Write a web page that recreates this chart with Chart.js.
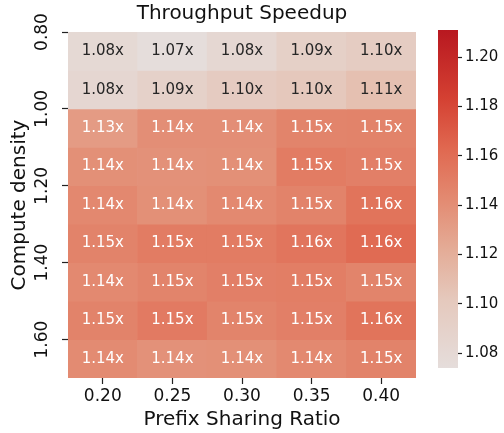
<!DOCTYPE html>
<html>
<head>
<meta charset="utf-8">
<script src="https://cdn.jsdelivr.net/npm/chart.js@4"></script>
<style>
  html, body { margin: 0; padding: 0; background: #fff; }
  #wrap { position: relative; width: 504px; height: 433px; }
  #heat { position: absolute; left: 0; top: 0; }
  #cbar { position: absolute; left: 438px; top: 0; }
</style>
</head>
<body>
<div id="wrap">
  <canvas id="heat" width="504" height="433"></canvas>
  <canvas id="cbar" width="66" height="433"></canvas>
</div>
<script>
// x categories and y rows
const ratios = ['0.20', '0.25', '0.30', '0.35', '0.40'];
const densities = [0.80, 0.90, 1.00, 1.10, 1.20, 1.30, 1.40, 1.50, 1.60];
const densityTicks = [0.80, 1.00, 1.20, 1.40, 1.60];
const rowStep = 0.1;

// speedup per row (compute density), columns = prefix sharing ratio
const speedup080 = [1.080, 1.074, 1.082, 1.092, 1.097];
const speedup090 = [1.083, 1.090, 1.098, 1.102, 1.108];
const speedup100 = [1.132, 1.140, 1.140, 1.146, 1.147];
const speedup110 = [1.139, 1.138, 1.139, 1.151, 1.149];
const speedup120 = [1.144, 1.139, 1.143, 1.147, 1.156];
const speedup130 = [1.147, 1.151, 1.151, 1.155, 1.161];
const speedup140 = [1.143, 1.146, 1.149, 1.150, 1.146];
const speedup150 = [1.147, 1.152, 1.146, 1.149, 1.156];
const speedup160 = [1.142, 1.138, 1.139, 1.143, 1.147];
const speedup = [speedup080, speedup090, speedup100, speedup110, speedup120,
                 speedup130, speedup140, speedup150, speedup160];

// colour bar range and ticks
const cbarMin = 1.074, cbarMax = 1.211;
const cbarTicks = [1.08, 1.10, 1.12, 1.14, 1.16, 1.18, 1.20];

const cmapStops = [
  [0.00, [229, 221, 219]],
  [0.20, [229, 201, 189]],
  [0.35, [228, 172, 151]],
  [0.50, [227, 138, 113]],
  [0.65, [224, 104, 80]],
  [0.80, [212, 64, 50]],
  [1.00, [184, 24, 32]]
];

function cmapRGB(t) {
  t = Math.max(0, Math.min(1, t));
  for (let i = 1; i < cmapStops.length; i++) {
    const [t1, c1] = cmapStops[i];
    const [t0, c0] = cmapStops[i - 1];
    if (t <= t1) {
      const f = (t - t0) / (t1 - t0);
      return c0.map((c, k) => Math.round(c + (c1[k] - c) * f));
    }
  }
  return cmapStops[cmapStops.length - 1][1];
}
const rgbStr = c => 'rgb(' + c.join(',') + ')';
const norm = v => (v - cbarMin) / (cbarMax - cbarMin);
const colorFor = v => rgbStr(cmapRGB(norm(v)));
// light cells get dark text, the rest white
const textColorFor = v => norm(v) < 0.3 ? '#262626' : '#ffffff';

const font = 'DejaVu Sans';

const datasets = densities.map((d, r) => ({
  data: speedup[r].map(() => [d, d + rowStep]),
  values: speedup[r],
  backgroundColor: speedup[r].map(colorFor),
  borderWidth: 0,
  barPercentage: 1,
  categoryPercentage: 1,
  grouped: false
}));

const cellLabels = {
  id: 'cellLabels',
  afterDatasetsDraw(chart) {
    const ctx = chart.ctx;
    ctx.save();
    ctx.font = '15px "' + font + '"';
    ctx.textAlign = 'center';
    ctx.textBaseline = 'middle';
    chart.data.datasets.forEach((ds, r) => {
      chart.getDatasetMeta(r).data.forEach((bar, c) => {
        const v = ds.values[c];
        ctx.fillStyle = textColorFor(v);
        ctx.fillText(v.toFixed(2) + 'x', bar.x, (bar.y + bar.base) / 2);
      });
    });
    ctx.restore();
  }
};

new Chart(document.getElementById('heat'), {
  type: 'bar',
  data: { labels: ratios, datasets: datasets },
  options: {
    responsive: false,
    animation: false,
    layout: { padding: { top: 0, left: 0, right: 88, bottom: 0 } },
    plugins: {
      legend: { display: false },
      tooltip: { enabled: false },
      title: {
        display: true,
        text: 'Throughput Speedup',
        fullSize: false,
        color: '#111',
        font: { family: font, size: 20, weight: 'normal' },
        padding: { top: 2, bottom: 6 }
      }
    },
    scales: {
      x: {
        type: 'category',
        offset: true,
        grid: { offset: false, drawOnChartArea: false, tickLength: 6, tickWidth: 1.2, tickColor: '#222' },
        border: { display: false },
        ticks: { color: '#111', font: { family: font, size: 17 }, padding: 2, maxRotation: 0 },
        title: {
          display: true, text: 'Prefix Sharing Ratio', color: '#111',
          font: { family: font, size: 20 }, padding: { top: 0, bottom: 1 }
        },
        afterFit: s => { s.height = 55; }
      },
      y: {
        type: 'linear',
        reverse: true,
        min: 0.8,
        max: 1.7,
        afterBuildTicks: s => { s.ticks = densityTicks.map(v => ({ value: v })); },
        grid: { drawOnChartArea: false, tickLength: 6, tickWidth: 1.2, tickColor: '#222' },
        border: { display: false },
        ticks: {
          color: '#111', font: { family: font, size: 17 },
          minRotation: 90, maxRotation: 90, crossAlign: 'center', padding: 0,
          callback: v => Number(v).toFixed(2)
        },
        title: {
          display: true, text: 'Compute density', color: '#111',
          font: { family: font, size: 20 }, padding: { top: 8, bottom: 0 }
        },
        afterFit: s => { s.width = 68; }
      }
    }
  },
  plugins: [cellLabels]
});

new Chart(document.getElementById('cbar'), {
  type: 'bar',
  data: {
    labels: [''],
    datasets: [{
      data: [[cbarMin, cbarMax]],
      borderWidth: 0,
      barPercentage: 1,
      categoryPercentage: 1,
      backgroundColor: ctx => {
        const area = ctx.chart.chartArea;
        if (!area) return null;
        const g = ctx.chart.ctx.createLinearGradient(0, area.bottom, 0, area.top);
        cmapStops.forEach(([t, c]) => g.addColorStop(t, rgbStr(c)));
        return g;
      }
    }]
  },
  options: {
    responsive: false,
    animation: false,
    layout: { padding: { top: 30, bottom: 65, left: 0, right: 0 } },
    plugins: { legend: { display: false }, tooltip: { enabled: false } },
    scales: {
      x: { display: false },
      y: {
        position: 'right',
        min: cbarMin,
        max: cbarMax,
        afterBuildTicks: s => { s.ticks = cbarTicks.map(v => ({ value: v })); },
        grid: { drawOnChartArea: false, tickLength: 4, tickWidth: 1.2, tickColor: '#222' },
        border: { display: false },
        ticks: { color: '#111', font: { family: font, size: 15 }, padding: 3,
                 callback: v => Number(v).toFixed(2) },
        afterFit: s => { s.width = 46; }
      }
    }
  }
});
</script>
</body>
</html>
